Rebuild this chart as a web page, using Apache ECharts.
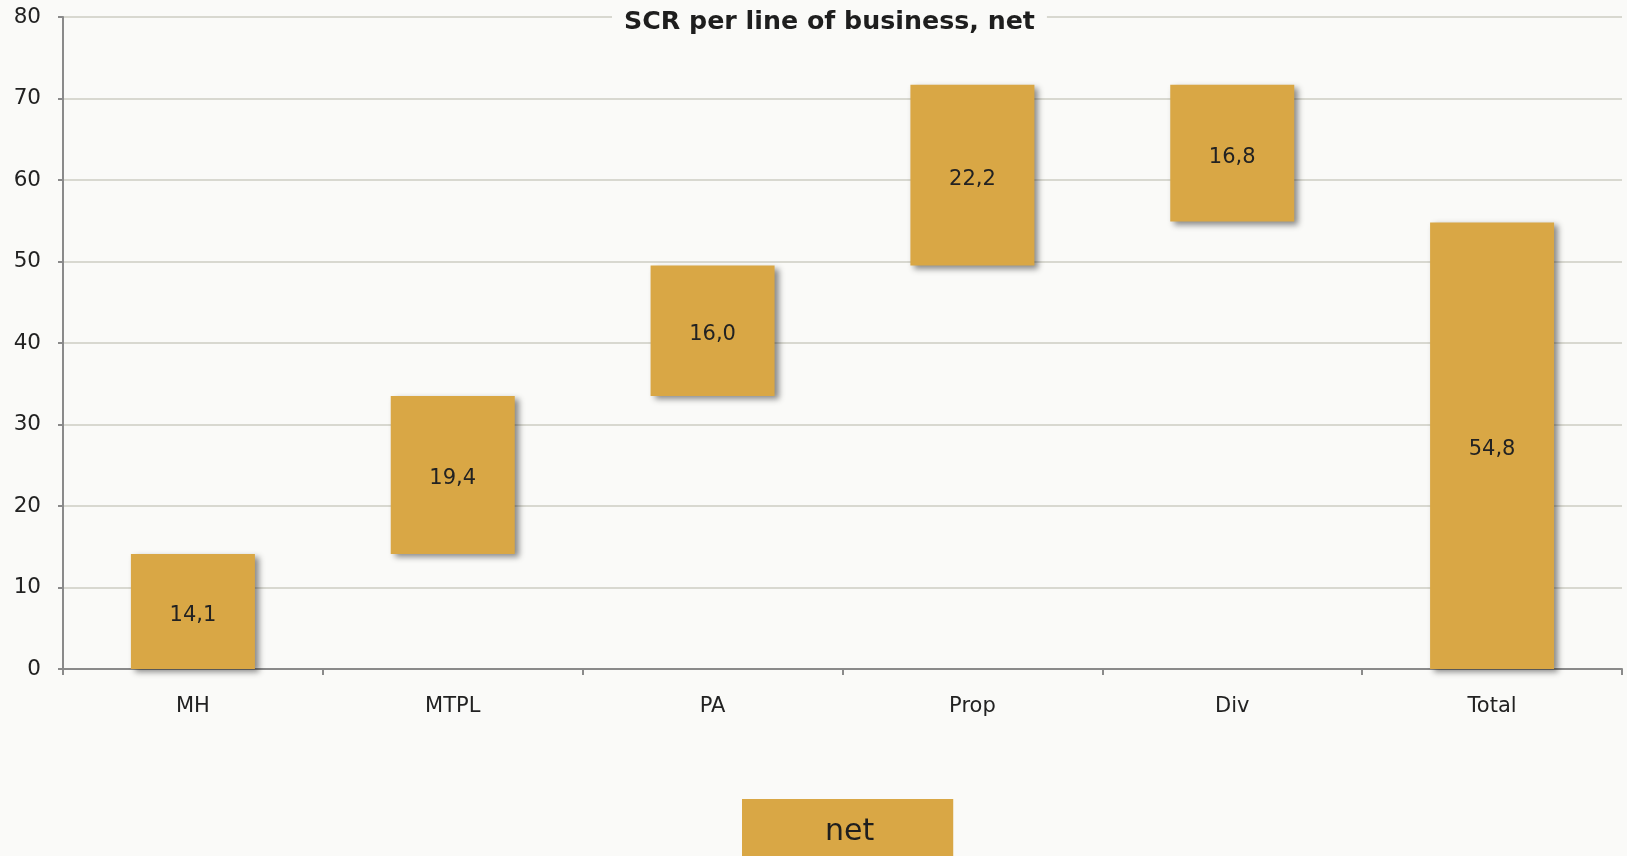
<!DOCTYPE html>
<html>
<head>
<meta charset="utf-8">
<script src="https://cdn.jsdelivr.net/npm/echarts@6/dist/echarts.min.js"></script>
<style>
  html, body { margin: 0; padding: 0; background: #fafaf8; }
  #chart { width: 1627px; height: 856px; }
</style>
</head>
<body>
<div id="chart"></div>
<script>
var categories = ['MH', 'MTPL', 'PA', 'Prop', 'Div', 'Total'];
// heights of the floating bars
var netValues = [14.1, 19.4, 16.0, 22.2, 16.8, 54.8];
// direction of each step: +1 adds, -1 diversification, 0 total
var stepSign = [1, 1, 1, 1, -1, 0];
var yTicks = [0, 10, 20, 30, 40, 50, 60, 70, 80];

// invisible base under every bar
var baseValues = [];
var running = 0;
for (var i = 0; i < netValues.length; i++) {
  if (stepSign[i] === 1) {
    baseValues.push(running);
    running += netValues[i];
  } else if (stepSign[i] === -1) {
    running -= netValues[i];
    baseValues.push(running);
  } else {
    baseValues.push(0);
  }
}

var barColor = '#d9a745';
var fontFamily = 'DejaVu Sans';

var chart = echarts.init(document.getElementById('chart'));
chart.setOption({
  backgroundColor: '#fafaf8',
  textStyle: { fontFamily: fontFamily },
  title: {
    text: 'SCR per line of business, net',
    left: 612,
    top: 8,
    padding: [2, 12],
    backgroundColor: '#fafaf8',
    textStyle: { fontFamily: fontFamily, fontSize: 25.3, fontWeight: 'bold', color: '#1e1e1e' }
  },
  legend: {
    data: [{ name: 'net', icon: 'rect' }],
    left: 742,
    top: 799,
    itemWidth: 0,
    itemHeight: 0,
    backgroundColor: barColor,
    padding: [18, 79, 40, 78],
    selectedMode: false,
    textStyle: { fontFamily: fontFamily, fontSize: 30, lineHeight: 30, color: '#1e1e1e' }
  },
  grid: { // 网格
    left: 63,
    right: 5,
    top: 17,
    bottom: 187,
    containLabel: false
  },
  xAxis: {
    type: 'category',
    data: categories,
    axisLine: { lineStyle: { color: '#8a8a8a', width: 2 } },
    axisTick: { show: true, length: 6, lineStyle: { color: '#8a8a8a', width: 2 } },
    axisLabel: { fontFamily: fontFamily, fontSize: 21, color: '#222', margin: 27 }
  },
  yAxis: {
    type: 'value',
    min: yTicks[0],
    max: yTicks[yTicks.length - 1],
    interval: 10,
    axisLine: { show: true, lineStyle: { color: '#8a8a8a', width: 2 } },
    axisTick: { show: true, length: 5, lineStyle: { color: '#8a8a8a', width: 2 } },
    axisLabel: { fontFamily: fontFamily, fontSize: 21.5, color: '#222', margin: 22, padding: [7, 0, 0, 0] },
    splitLine: { lineStyle: { color: '#d8d8d0', width: 2 } }
  },
  series: [{
    name: 'base',
    type: 'bar',
    stack: 'wf',
    barWidth: 124,
    silent: true,
    itemStyle: { color: 'transparent' },
    data: baseValues
  }, {
    name: 'net',
    type: 'bar',
    stack: 'wf',
    barWidth: 124,
    itemStyle: {
      color: barColor,
      shadowColor: 'rgba(0,0,0,0.45)',
      shadowBlur: 6,
      shadowOffsetX: 4,
      shadowOffsetY: 3
    },
    label: {
      show: true,
      position: 'inside',
      offset: [0, 4],
      fontFamily: fontFamily,
      fontSize: 21,
      color: '#222',
      formatter: function (p) {
        return p.value.toFixed(1).replace('.', ',');
      }
    },
    data: netValues
  }]
});
</script>
</body>
</html>
